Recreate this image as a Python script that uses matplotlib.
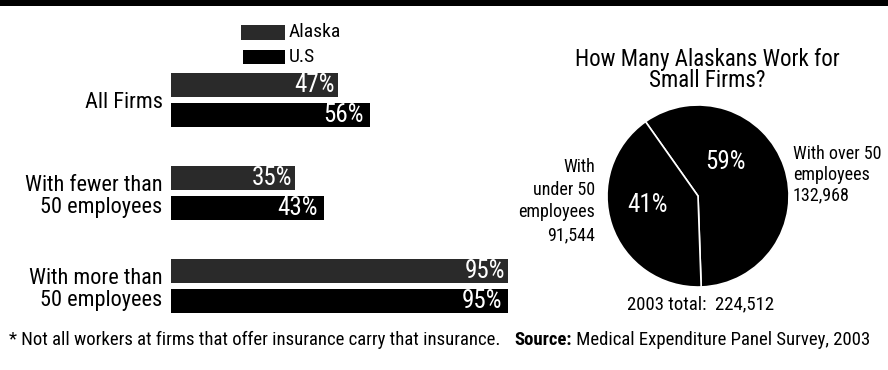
import matplotlib
matplotlib.use("Agg")
import matplotlib.pyplot as plt
from matplotlib.patches import Rectangle

plt.rcParams['font.family'] = ['Liberation Sans Narrow', 'Roboto Condensed',
                               'Archivo Narrow', 'Liberation Sans', 'DejaVu Sans']

# insurance offered, percent of workers
categories = ["All Firms", "With fewer than\n50 employees", "With more than\n50 employees"]
alaska = [47, 35, 95]
us = [56, 43, 95]

# Alaska workers by firm size, 2003
pie_labels = ["With over 50\nemployees", "With\nunder 50\nemployees"]
pie_counts = [132968, 91544]

W, H = 888, 370
fig = plt.figure(figsize=(W / 100, H / 100), dpi=100)


def box(x0, y0, x1, y1):
    # pixel box (top-left origin) -> figure fraction rect
    return [x0 / W, 1 - y1 / H, (x1 - x0) / W, (y1 - y0) / H]


def fx(x):
    return x / W


def fy(y):
    return 1 - y / H


# black rule across the top
fig.patches.append(Rectangle((0, fy(6)), 1, 6 / H, transform=fig.transFigure,
                             facecolor="black", edgecolor="none"))

# ---- bars ----
ax = fig.add_axes(box(171, 60, 526, 330))
ypos = list(range(len(categories)))
bh = 0.26
off = 0.157
ak_col, us_col = "#2a2a2a", "#000000"
ax.barh([y - off for y in ypos], alaska, height=bh, color=ak_col, label="Alaska")
ax.barh([y + off for y in ypos], us, height=bh, color=us_col, label="U.S")
for y, a, u in zip(ypos, alaska, us):
    ax.annotate(f"{a}%", xy=(a, y - off), xytext=(-2, 0), textcoords="offset points",
                ha="right", va="center", color="white", fontsize=18)
    ax.annotate(f"{u}%", xy=(u, y + off), xytext=(-4, 0), textcoords="offset points",
                ha="right", va="center", color="white", fontsize=18)
ax.set_xlim(0, 100)
ax.set_ylim(2.473, -0.43)
ax.set_yticks(ypos)
ax.set_yticklabels(categories, fontsize=16, linespacing=1.12)
ax.tick_params(axis="y", length=0, pad=6)
ax.set_xticks([])
for s in ax.spines.values():
    s.set_visible(False)
ax.patch.set_alpha(0)

# legend
fig.patches.append(Rectangle((fx(241), fy(40)), 44 / W, 15 / H, transform=fig.transFigure,
                             facecolor=ak_col, edgecolor="none"))
fig.patches.append(Rectangle((fx(243), fy(64)), 42 / W, 14 / H, transform=fig.transFigure,
                             facecolor=us_col, edgecolor="none"))
fig.text(fx(289), fy(32), "Alaska", fontsize=14, va="center", ha="left")
fig.text(fx(289), fy(57), "U.S", fontsize=14, va="center", ha="left")

# ---- pie ----
pax = fig.add_axes(box(607, 105, 789, 287))
total = sum(pie_counts)
pax.pie(pie_counts, colors=["black", "black"], startangle=-88, counterclock=True,
        wedgeprops=dict(edgecolor="white", linewidth=1.2))
pax.set_xlim(-1, 1)
pax.set_ylim(-1, 1)
pax.set_aspect("equal")
pct = [round(100 * c / total) for c in pie_counts]
pax.text(0.30, 0.37, f"{pct[0]}%", color="white", fontsize=18, ha="center", va="center")
pax.text(-0.55, -0.10, f"{pct[1]}%", color="white", fontsize=18, ha="center", va="center")

fig.text(fx(707), fy(70), "How Many Alaskans Work for\nSmall Firms?", fontsize=16.5,
         ha="center", va="center", linespacing=0.9)
fig.text(fx(793), fy(175), f"{pie_labels[0]}\n{pie_counts[0]:,}", fontsize=13,
         ha="left", va="center", linespacing=1.2)
fig.text(fx(595), fy(201), f"{pie_labels[1]}\n{pie_counts[1]:,}", fontsize=13,
         ha="right", va="center", linespacing=1.35)
fig.text(fx(701), fy(304), f"2003 total:  {total:,}", fontsize=13.5, ha="center", va="center")

# footnote and source
fig.text(fx(9), fy(340), "* Not all workers at firms that offer insurance carry that insurance.",
         fontsize=13.5, ha="left", va="center")
src = fig.text(fx(514), fy(340), "Source:", fontsize=13.5, fontweight="bold",
               ha="left", va="center")
fig.add_artist(plt.Annotation(" Medical Expenditure Panel Survey, 2003", xy=(1, 0.5),
                              xycoords=src, fontsize=13.5, ha="left", va="center",
                              annotation_clip=False))

fig.savefig("out.png", dpi=100)
